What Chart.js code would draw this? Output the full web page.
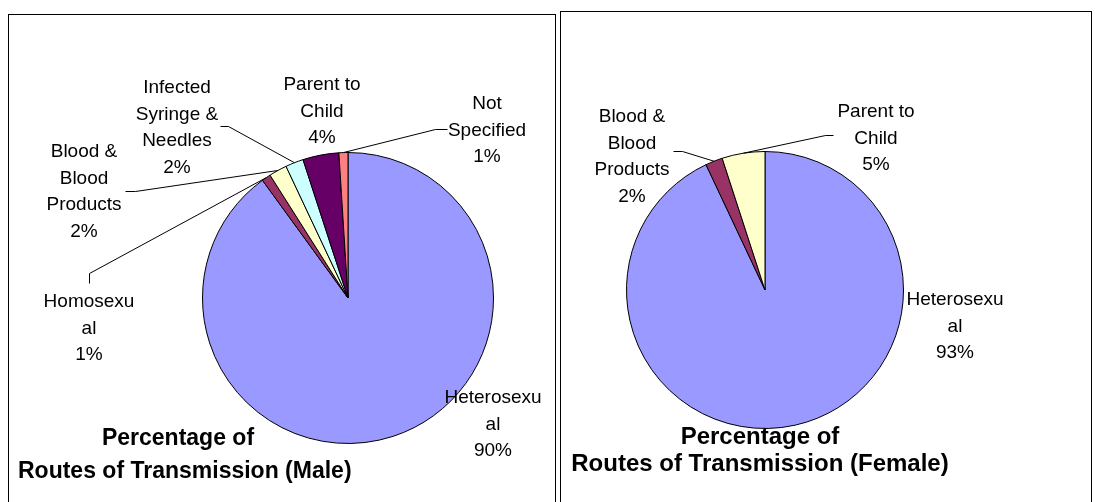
<!DOCTYPE html>
<html>
<head>
<meta charset="utf-8">
<script src="https://cdn.jsdelivr.net/npm/chart.js@4"></script>
<style>
  html, body { margin: 0; padding: 0; background: #fff; }
  body { width: 1095px; height: 502px; position: relative; overflow: hidden; font-family: "Liberation Sans", Arial, sans-serif; }
  .box { position: absolute; border: 1px solid #000; border-bottom: none; }
  canvas { position: absolute; left: 0; top: 0; }
  .title { position: absolute; font-weight: bold; color: #000; text-align: center; white-space: nowrap; }
</style>
</head>
<body>
<div class="box" style="left:8px; top:14px; width:546px; height:500px;"></div>
<div class="box" style="left:560px; top:11px; width:530px; height:500px;"></div>
<canvas id="male-chart" width="1095" height="502"></canvas>
<canvas id="female-chart" width="1095" height="502"></canvas>
<div class="title" style="left:18px; top:421px; width:320px; font-size:23px; line-height:33px;">Percentage of<br>Routes of Transmission (Male)</div>
<div class="title" style="left:560px; top:422px; width:400px; font-size:24px; line-height:27px;">Percentage of<br>Routes of Transmission (Female)</div>
<script>
// data
const maleLabels = ['Heterosexual', 'Homosexual', 'Blood & Blood Products', 'Infected Syringe & Needles', 'Parent to Child', 'Not Specified'];
const maleValues = [90, 1, 2, 2, 4, 1];
const maleColors = ['#9999FF', '#993366', '#FFFFCC', '#CCFFFF', '#660066', '#FF8080'];
const maleLabelLines = [['Heterosexu', 'al'], ['Homosexu', 'al'], ['Blood &', 'Blood', 'Products'], ['Infected', 'Syringe &', 'Needles'], ['Parent to', 'Child'], ['Not', 'Specified']];

const femaleLabels = ['Heterosexual', 'Blood & Blood Products', 'Parent to Child'];
const femaleValues = [93, 2, 5];
const femaleColors = ['#9999FF', '#993366', '#FFFFCC'];
const femaleLabelLines = [['Heterosexu', 'al'], ['Blood &', 'Blood', 'Products'], ['Parent to', 'Child']];

// label placement (x = text centre, y = first line) and leader elbows
const malePlaces = [
    { x: 493, y: 398 },
    { x: 89, y: 302, elbow: [89, 273], end: [89, 283] },
    { x: 84, y: 152, elbow: [135, 191], end: [125, 191] },
    { x: 177, y: 88, elbow: [228, 126], end: [220, 126] },
    { x: 322, y: 85 },
    { x: 487, y: 104, elbow: [435, 129], end: [447, 129] }
];
const femalePlaces = [
    { x: 955, y: 300 },
    { x: 632, y: 117, elbow: [682, 151], end: [673, 151] },
    { x: 876, y: 112, elbow: [825, 135], end: [833, 135] }
];

const pieLabels = {
    id: 'pieLabels',
    afterDatasetsDraw(chart, args, opts) {
        const ctx = chart.ctx;
        const meta = chart.getDatasetMeta(0);
        const values = chart.data.datasets[0].data;
        ctx.save();
        ctx.font = '19px "Liberation Sans", Arial, sans-serif';
        ctx.fillStyle = '#000';
        ctx.strokeStyle = '#000';
        ctx.lineWidth = 1;
        ctx.textAlign = 'center';
        ctx.textBaseline = 'middle';
        opts.places.forEach((p, i) => {
            const arc = meta.data[i];
            if (p.elbow) {
                // leader line from the middle of the slice's outer edge
                const mid = (arc.startAngle + arc.endAngle) / 2;
                const sx = arc.x + Math.cos(mid) * arc.outerRadius;
                const sy = arc.y + Math.sin(mid) * arc.outerRadius;
                ctx.beginPath();
                ctx.moveTo(sx, sy);
                ctx.lineTo(p.elbow[0] + 0.5, p.elbow[1] + 0.5);
                ctx.lineTo(p.end[0] + 0.5, p.end[1] + 0.5);
                ctx.stroke();
            }
            const lines = opts.lines[i].concat([values[i] + '%']);
            lines.forEach((t, k) => ctx.fillText(t, p.x, p.y + k * 26.5));
        });
        ctx.restore();
    }
};

function makePie(id, labels, values, colors, lines, places, cx, cy, r) {
    const W = 1095, H = 502;
    new Chart(document.getElementById(id).getContext('2d'), {
        type: 'pie',
        data: {
            labels: labels,
            datasets: [{
                data: values,
                backgroundColor: colors,
                borderColor: '#000',
                borderWidth: 1
            }]
        },
        options: {
            responsive: false,
            animation: false,
            layout: { padding: { left: cx - r, right: W - cx - r, top: cy - r, bottom: H - cy - r } },
            plugins: {
                legend: { display: false },
                tooltip: { enabled: false },
                pieLabels: { lines: lines, places: places }
            }
        },
        plugins: [pieLabels]
    });
}

makePie('male-chart', maleLabels, maleValues, maleColors, maleLabelLines, malePlaces, 348, 298, 146);
makePie('female-chart', femaleLabels, femaleValues, femaleColors, femaleLabelLines, femalePlaces, 765, 290, 139);
</script>
</body>
</html>
